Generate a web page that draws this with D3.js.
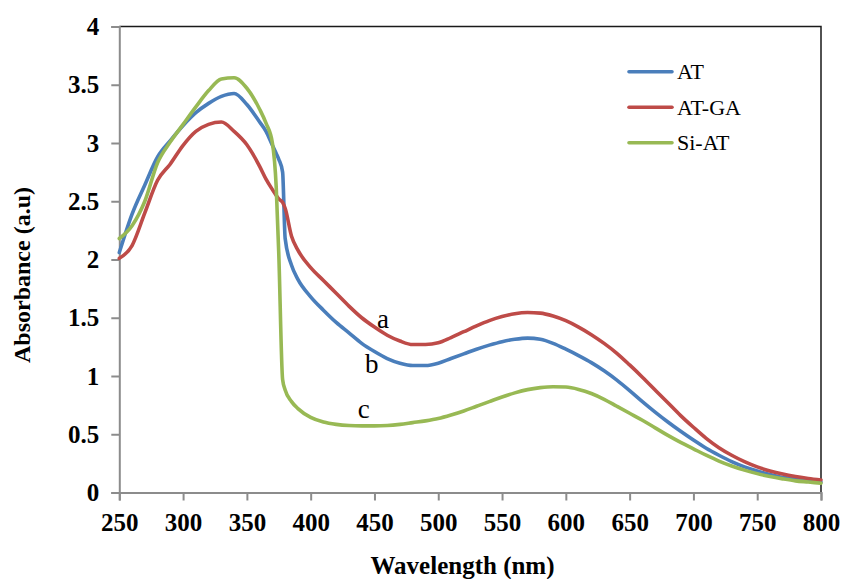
<!DOCTYPE html>
<html>
<head>
<meta charset="utf-8">
<script src="https://cdn.jsdelivr.net/npm/d3@7/dist/d3.min.js"></script>
<style>
  html, body { margin: 0; padding: 0; background: #fff; }
  svg { display: block; }
</style>
</head>
<body>
<svg id="chart" width="842" height="579"></svg>
<script>
// Wavelength grid (nm) shared by all spectra
const wavelength = [250,260,270,280,290,300,310,320,330,340,350,360,365,370,373,375,378,380,385,390,
  400,410,420,430,440,450,460,470,480,490,500,510,520,530,540,550,560,570,580,590,600,
  610,620,630,640,650,660,670,680,690,700,710,720,730,740,750,760,770,780,790,800];

// Absorbance (a.u) of each sample
const absAT = [2.06,2.39,2.64,2.88,3.02,3.15,3.26,3.34,3.40,3.425,3.33,3.18,3.10,2.98,2.91,2.86,2.75,2.18,1.95,1.83,
  1.68,1.565,1.46,1.37,1.28,1.21,1.15,1.11,1.09,1.09,1.11,1.15,1.19,1.23,1.265,1.295,1.315,1.325,1.315,1.28,1.23,
  1.175,1.115,1.045,0.965,0.875,0.78,0.69,0.605,0.525,0.45,0.38,0.32,0.265,0.22,0.185,0.155,0.13,0.115,0.10,0.09];

const absATGA = [2.01,2.12,2.40,2.68,2.82,2.98,3.10,3.16,3.18,3.10,2.985,2.80,2.69,2.60,2.55,2.52,2.49,2.44,2.20,2.08,
  1.93,1.82,1.71,1.60,1.50,1.42,1.35,1.30,1.27,1.27,1.285,1.33,1.38,1.43,1.475,1.51,1.535,1.545,1.54,1.515,1.475,
  1.42,1.355,1.28,1.195,1.095,0.99,0.88,0.77,0.66,0.56,0.465,0.385,0.32,0.265,0.22,0.185,0.158,0.137,0.12,0.108];

const absSiAT = [2.18,2.29,2.50,2.83,3.01,3.16,3.31,3.45,3.55,3.56,3.47,3.29,3.17,3.00,2.62,2.05,0.97,0.88,0.78,0.72,
  0.645,0.605,0.585,0.575,0.572,0.572,0.575,0.585,0.60,0.615,0.635,0.665,0.70,0.74,0.78,0.82,0.855,0.883,0.90,0.908,0.905,
  0.885,0.85,0.80,0.74,0.68,0.62,0.555,0.49,0.43,0.375,0.32,0.27,0.228,0.192,0.162,0.137,0.117,0.10,0.09,0.08];

const seriesNames = ["AT", "AT-GA", "Si-AT"];
const seriesColors = ["#4A7EBB", "#BE4B48", "#98B954"];
const seriesValues = [absAT, absATGA, absSiAT];

// Curve letters and the (wavelength, absorbance) point each one sits at
const curveLetters = ["a", "b", "c"];
const letterWavelength = [456.7, 447.8, 441.5];
const letterAbsorbance = [1.41, 1.023, 0.637];

const xTicks = [250,300,350,400,450,500,550,600,650,700,750,800];
const yTicks = [0,0.5,1,1.5,2,2.5,3,3.5,4];
const yTickLabels = ["0","0.5","1","1.5","2","2.5","3","3.5","4"];

const serif = "'Liberation Serif', 'Times New Roman', serif";
const svg = d3.select("#chart");

const plotLeft = 119.3, plotRight = 821, plotTop = 26.5, plotBottom = 492.5;
const x = d3.scaleLinear().domain([250, 800]).range([plotLeft, plotRight]);
const y = d3.scaleLinear().domain([0, 4]).range([plotBottom, plotTop]);

// Plot frame: black top and right edges
svg.append("path")
  .attr("d", `M${plotLeft},${plotTop}H${plotRight}V${plotBottom}`)
  .attr("fill", "none").attr("stroke", "#1a1a1a").attr("stroke-width", 1.5);

// Axes
const axisColor = "#8c8c8c";
const gx = svg.append("g").attr("transform", `translate(0,${plotBottom})`)
  .call(d3.axisBottom(x).tickValues(xTicks).tickSize(8).tickPadding(13).tickFormat(d3.format("d")));
const gy = svg.append("g").attr("transform", `translate(${plotLeft},0)`)
  .call(d3.axisLeft(y).tickValues(yTicks).tickSize(8).tickPadding(12).tickFormat((d, i) => yTickLabels[i]));

[gx, gy].forEach(g => {
  g.select(".domain").attr("stroke", axisColor).attr("stroke-width", 2);
  g.selectAll(".tick line").attr("stroke", axisColor).attr("stroke-width", 2);
  g.selectAll(".tick text")
    .attr("fill", "#000")
    .style("font-family", serif).style("font-weight", "bold").style("font-size", "25px");
});

// Spectra
const line = d3.line()
  .x((d, i) => x(wavelength[i]))
  .y(d => y(d))
  .curve(d3.curveMonotoneX);

seriesValues.forEach((vals, k) => {
  svg.append("path")
    .datum(vals)
    .attr("d", line)
    .attr("fill", "none")
    .attr("stroke", seriesColors[k])
    .attr("stroke-width", 3.6)
    .attr("stroke-linejoin", "round")
    .attr("stroke-linecap", "round");
});

// Curve letters
curveLetters.forEach((t, i) => {
  svg.append("text")
    .attr("x", x(letterWavelength[i]))
    .attr("y", y(letterAbsorbance[i]))
    .attr("text-anchor", "middle")
    .style("font-family", serif).style("font-size", "27px")
    .attr("fill", "#000")
    .text(t);
});

// Legend
const legend = svg.append("g").attr("transform", "translate(629,71.7)");
seriesNames.forEach((name, i) => {
  const g = legend.append("g").attr("transform", `translate(0,${i * 35.5})`);
  g.append("line").attr("x1", 0).attr("x2", 43).attr("y1", 0).attr("y2", 0)
    .attr("stroke", seriesColors[i]).attr("stroke-width", 3.6).attr("stroke-linecap", "round");
  g.append("text").attr("x", 48).attr("y", 7.6)
    .style("font-family", serif).style("font-size", "22px")
    .attr("fill", "#000")
    .text(name);
});

// Axis titles
svg.append("text")
  .attr("x", 462.5).attr("y", 574)
  .attr("text-anchor", "middle")
  .style("font-family", serif).style("font-weight", "bold").style("font-size", "25px")
  .attr("fill", "#000")
  .text("Wavelength (nm)");

svg.append("text")
  .attr("transform", "translate(30,275) rotate(-90)")
  .attr("text-anchor", "middle")
  .style("font-family", serif).style("font-weight", "bold").style("font-size", "24px")
  .attr("fill", "#000")
  .text("Absorbance (a.u)");
</script>
</body>
</html>
